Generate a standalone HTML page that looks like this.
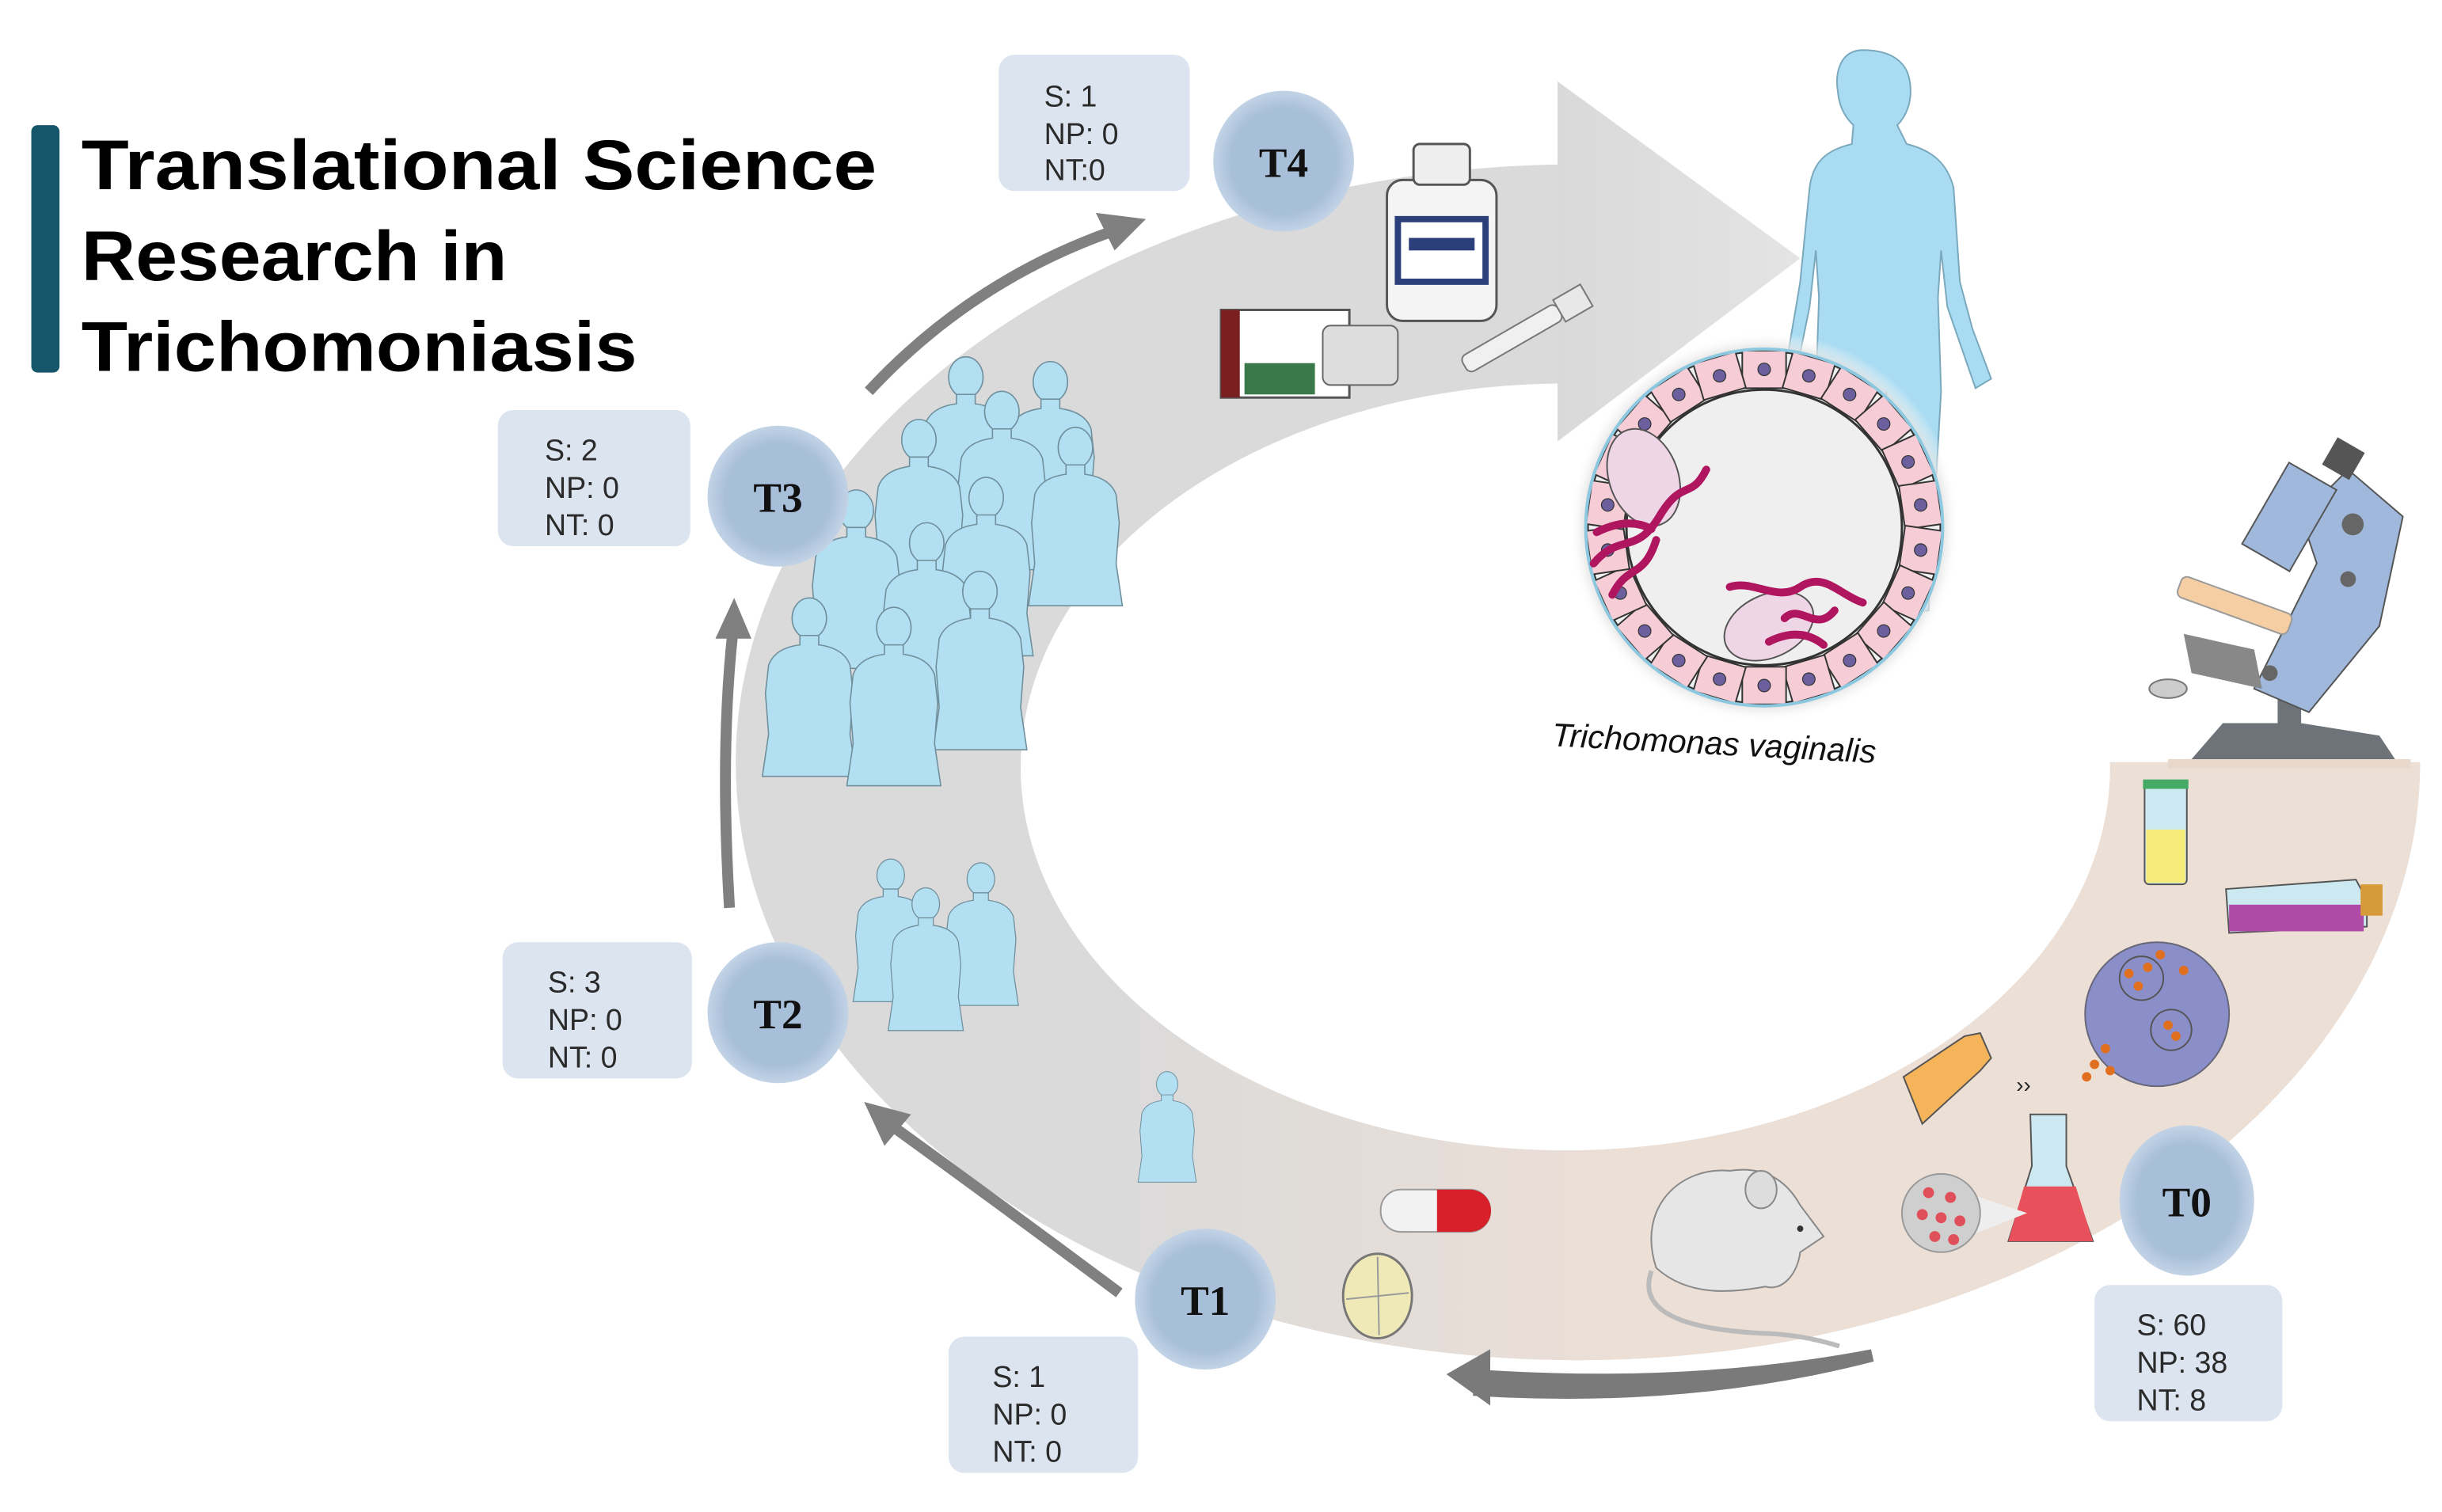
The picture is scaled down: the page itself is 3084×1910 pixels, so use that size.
<!DOCTYPE html>
<html><head><meta charset="utf-8"><style>
html,body{margin:0;padding:0;background:#fff;}
svg{display:block;}
.st{font-family:"Liberation Sans",sans-serif;font-size:19px;fill:#2a2a2a;}
.tn{font-family:"Liberation Serif",serif;font-weight:bold;font-size:27px;fill:#111;}
.ti{font-family:"Liberation Sans",sans-serif;font-weight:bold;font-size:45px;fill:#000;}
</style></head><body>
<svg width="3084" height="1910" viewBox="0 0 1560 966" preserveAspectRatio="none" xmlns="http://www.w3.org/2000/svg">
<defs>
<clipPath id="cg"><path d="M0,0 H995 V487 H1560 V966 H0Z"/></clipPath>
<clipPath id="cb"><rect x="600" y="487" width="960" height="479"/></clipPath>
<linearGradient id="bg" x1="700" y1="0" x2="1050" y2="0" gradientUnits="userSpaceOnUse">
<stop offset="0" stop-color="#ecdfd6" stop-opacity="0"/><stop offset="1" stop-color="#ecdfd6" stop-opacity="1"/></linearGradient>
<linearGradient id="ah" x1="0" y1="0" x2="1" y2="0"><stop offset="0" stop-color="#d9d9d9"/><stop offset="1" stop-color="#e4e4e4"/></linearGradient>
<radialGradient id="nd" cx="0.5" cy="0.5" r="0.5"><stop offset="0.75" stop-color="#a8bfda"/><stop offset="1" stop-color="#c3d3e6"/></radialGradient>
<radialGradient id="cellsh" cx="0.5" cy="0.5" r="0.5"><stop offset="0.75" stop-color="#f0f0f0"/><stop offset="0.9" stop-color="#ddd"/><stop offset="1" stop-color="#fff" stop-opacity="0"/></radialGradient>
<g id="p"><ellipse cx="30" cy="14" rx="11" ry="13" fill="#b3dff2" stroke="#6f8f9c" stroke-width="0.8"/>
<path d="M24,25 L24,31 Q8,33 4,44 L2,62 L4,88 L0,115 L60,115 L56,88 L58,62 L56,44 Q52,33 36,31 L36,25Z" fill="#b3dff2" stroke="#6f8f9c" stroke-width="0.8"/></g>
<g id="cell"><rect x="1113" y="224" width="28" height="24" fill="#f6cdd6" stroke="#333" stroke-width="1"/><circle cx="1127" cy="236" r="4" fill="#6b5f9e" stroke="#333" stroke-width="0.6"/></g>
</defs>

<rect x="20" y="80" width="18" height="158" rx="4" fill="#16566a"/>
<text class="ti" x="52" y="121" textLength="508" lengthAdjust="spacingAndGlyphs">Translational  Science</text>
<text class="ti" x="52" y="179" textLength="272" lengthAdjust="spacingAndGlyphs">Research in</text>
<text class="ti" x="52" y="237" textLength="355" lengthAdjust="spacingAndGlyphs">Trichomoniasis</text>

<path clip-path="url(#cg)" fill-rule="evenodd" fill="#dadada" d="M470,487 A538,382 0 1,1 1546,487 A538,382 0 1,1 470,487Z M652,490 A348,245 0 1,0 1348,490 A348,245 0 1,0 652,490Z"/>
<path clip-path="url(#cb)" fill-rule="evenodd" fill="url(#bg)" d="M470,487 A538,382 0 1,1 1546,487 A538,382 0 1,1 470,487Z M652,490 A348,245 0 1,0 1348,490 A348,245 0 1,0 652,490Z"/>
<polygon points="995,52 1150,165 995,282" fill="url(#ah)"/>

<path d="M555,250 Q620,180 710,148" fill="none" stroke="#808080" stroke-width="7"/>
<polygon points="732,140 700,136 712,160" fill="#808080"/>
<path d="M466,580 Q460,480 468,405" fill="none" stroke="#808080" stroke-width="7"/>
<polygon points="469,382 457,408 480,408" fill="#808080"/>
<path d="M715,826 Q640,770 568,718" fill="none" stroke="#808080" stroke-width="7"/>
<polygon points="552,704 565,732 582,712" fill="#808080"/>
<path d="M1196,866 Q1080,888 945,879 L945,888 Q1080,896 1196,866Z" fill="#7a7a7a" stroke="#7a7a7a" stroke-width="8"/>
<polygon points="924,878 952,862 952,898" fill="#7a7a7a"/>

<rect x="638" y="35" width="122" height="87" rx="10" fill="#dce4ef"/>
<text class="st" x="667" y="68">S: 1</text><text class="st" x="667" y="92">NP: 0</text><text class="st" x="667" y="115">NT:0</text>
<rect x="318" y="262" width="123" height="87" rx="10" fill="#dce4ef"/>
<text class="st" x="348" y="294">S: 2</text><text class="st" x="348" y="318">NP: 0</text><text class="st" x="348" y="342">NT: 0</text>
<rect x="321" y="602" width="121" height="87" rx="10" fill="#dce4ef"/>
<text class="st" x="350" y="634">S: 3</text><text class="st" x="350" y="658">NP: 0</text><text class="st" x="350" y="682">NT: 0</text>
<rect x="606" y="854" width="121" height="87" rx="10" fill="#dce4ef"/>
<text class="st" x="634" y="886">S: 1</text><text class="st" x="634" y="910">NP: 0</text><text class="st" x="634" y="934">NT: 0</text>
<rect x="1338" y="821" width="120" height="87" rx="10" fill="#dce4ef"/>
<text class="st" x="1365" y="853">S: 60</text><text class="st" x="1365" y="877">NP: 38</text><text class="st" x="1365" y="901">NT: 8</text>

<use href="#p" x="587" y="227"/><use href="#p" x="641" y="230"/><use href="#p" x="610" y="249"/>
<use href="#p" x="557" y="267"/><use href="#p" x="657" y="272"/><use href="#p" x="517" y="312"/>
<use href="#p" x="600" y="304"/><use href="#p" x="562" y="333"/><use href="#p" x="596" y="364"/>
<use href="#p" x="487" y="381"/><use href="#p" x="541" y="387"/>
<g transform="translate(545,548) scale(0.8)"><use href="#p" x="0" y="0"/><use href="#p" x="72" y="3"/><use href="#p" x="28" y="23"/></g>
<g transform="translate(727,684) scale(0.62)"><use href="#p" x="0" y="0"/></g>

<circle cx="820" cy="103" r="45" fill="url(#nd)"/><text class="tn" x="820" y="113" text-anchor="middle">T4</text>
<circle cx="497" cy="317" r="45" fill="url(#nd)"/><text class="tn" x="497" y="327" text-anchor="middle">T3</text>
<circle cx="497" cy="647" r="45" fill="url(#nd)"/><text class="tn" x="497" y="657" text-anchor="middle">T2</text>
<circle cx="770" cy="830" r="45" fill="url(#nd)"/><text class="tn" x="770" y="840" text-anchor="middle">T1</text>
<ellipse cx="1397" cy="767" rx="43" ry="48" fill="url(#nd)"/><text class="tn" x="1397" y="777" text-anchor="middle">T0</text>

<rect x="886" y="115" width="70" height="90" rx="10" fill="#f4f4f4" stroke="#555" stroke-width="1.5"/>
<rect x="903" y="92" width="36" height="26" rx="4" fill="#eee" stroke="#555" stroke-width="1.5"/>
<rect x="893" y="140" width="56" height="40" fill="#fff" stroke="#2b3f7a" stroke-width="4"/>
<rect x="900" y="152" width="42" height="8" fill="#2b3f7a"/>
<rect x="780" y="198" width="82" height="56" fill="#fff" stroke="#555" stroke-width="1.5"/>
<rect x="780" y="198" width="12" height="56" fill="#7a2020"/>
<rect x="795" y="232" width="45" height="20" fill="#3a7a4a"/>
<rect x="845" y="208" width="48" height="38" rx="5" fill="#ddd" stroke="#666"/>
<g transform="rotate(-30 975 212)"><rect x="930" y="205" width="70" height="12" rx="4" fill="#f0f0f0" stroke="#777"/><rect x="1000" y="203" width="20" height="16" fill="#e8e8e8" stroke="#777"/></g>

<path d="M1190,32 C1176,32 1172,46 1174,58 C1175,70 1180,76 1184,80 L1183,92 C1166,96 1158,104 1156,120 L1150,180 C1146,205 1142,225 1140,242 L1146,245 L1156,196 L1160,160 L1162,190 L1160,250 L1166,320 L1178,390 L1196,392 L1200,300 L1205,250 L1210,300 L1214,392 L1232,390 L1236,320 L1240,250 L1238,190 L1240,160 L1244,196 L1262,248 L1272,242 L1260,210 L1252,180 L1248,120 C1244,104 1234,96 1218,92 L1212,80 C1218,74 1222,64 1220,52 C1218,38 1206,32 1190,32Z" fill="#a9dcf2" stroke="#7aa8bc" stroke-width="1"/>

<circle cx="1127" cy="337" r="125" fill="url(#cellsh)"/>
<circle cx="1127" cy="337" r="113" fill="#f0f0f0" stroke="#333" stroke-width="2"/>
<g>
<use href="#cell"/><use href="#cell" transform="rotate(16.4 1127 337)"/><use href="#cell" transform="rotate(32.7 1127 337)"/><use href="#cell" transform="rotate(49.1 1127 337)"/><use href="#cell" transform="rotate(65.5 1127 337)"/><use href="#cell" transform="rotate(81.8 1127 337)"/><use href="#cell" transform="rotate(98.2 1127 337)"/><use href="#cell" transform="rotate(114.5 1127 337)"/><use href="#cell" transform="rotate(130.9 1127 337)"/><use href="#cell" transform="rotate(147.3 1127 337)"/><use href="#cell" transform="rotate(163.6 1127 337)"/><use href="#cell" transform="rotate(180 1127 337)"/><use href="#cell" transform="rotate(196.4 1127 337)"/><use href="#cell" transform="rotate(212.7 1127 337)"/><use href="#cell" transform="rotate(229.1 1127 337)"/><use href="#cell" transform="rotate(245.5 1127 337)"/><use href="#cell" transform="rotate(261.8 1127 337)"/><use href="#cell" transform="rotate(278.2 1127 337)"/><use href="#cell" transform="rotate(294.5 1127 337)"/><use href="#cell" transform="rotate(310.9 1127 337)"/><use href="#cell" transform="rotate(327.3 1127 337)"/><use href="#cell" transform="rotate(343.6 1127 337)"/>
</g>
<circle cx="1127" cy="337" r="88" fill="#efefef" stroke="#333" stroke-width="1.5"/>
<circle cx="1127" cy="337" r="114" fill="none" stroke="#8cc8e0" stroke-width="2"/>
<ellipse cx="1050" cy="305" rx="22" ry="32" fill="#eed6e6" stroke="#555" transform="rotate(-20 1050 305)"/>
<ellipse cx="1130" cy="400" rx="30" ry="20" fill="#eed6e6" stroke="#555" transform="rotate(-25 1130 400)"/>
<path d="M1018,360 C1035,340 1045,355 1060,330 S1080,320 1090,300 M1030,380 C1040,360 1050,370 1058,345 M1020,340 Q1040,330 1055,338" fill="none" stroke="#b0155f" stroke-width="5" stroke-linecap="round"/>
<path d="M1105,375 C1120,370 1135,385 1150,375 S1175,380 1190,385 M1140,395 C1150,385 1160,405 1172,390 M1130,410 Q1150,400 1165,412" fill="none" stroke="#b0155f" stroke-width="5" stroke-linecap="round"/>
<text x="1095" y="482" text-anchor="middle" transform="rotate(3 1095 475)" style="font-family:'Liberation Sans',sans-serif;font-style:italic;font-size:21px;fill:#111">Trichomonas vaginalis</text>

<rect x="1385" y="485" width="155" height="6" fill="#e8d8cc"/>
<path d="M1400,485 L1420,462 L1455,462 L1455,420 L1470,420 L1470,462 L1520,470 L1530,485Z" fill="#6d7378"/>
<path d="M1440,440 L1480,360 L1470,330 L1500,300 L1535,330 L1520,400 L1475,455Z" fill="#9fb8dc" stroke="#555" stroke-width="1"/>
<rect x="1445" y="300" width="35" height="60" fill="#9fb8dc" stroke="#555" transform="rotate(30 1462 330)"/>
<rect x="1487" y="283" width="20" height="20" fill="#555" transform="rotate(30 1497 293)"/>
<circle cx="1503" cy="335" r="7" fill="#666"/><circle cx="1500" cy="370" r="5" fill="#666"/><circle cx="1450" cy="430" r="5" fill="#666"/>
<rect x="1390" y="380" width="75" height="14" rx="4" fill="#f5cfa3" stroke="#999" transform="rotate(20 1428 387)"/>
<path d="M1395,405 L1440,415 L1445,440 L1400,430Z" fill="#888"/>
<ellipse cx="1385" cy="440" rx="12" ry="6" fill="#ccc" stroke="#777"/>

<rect x="1370" y="500" width="27" height="65" rx="3" fill="#cce8f0" stroke="#555"/>
<rect x="1371" y="530" width="25" height="34" fill="#f5eb7a"/>
<rect x="1369" y="498" width="29" height="6" fill="#4a6"/>
<path d="M1422,568 L1505,562 L1512,575 L1512,592 L1424,596Z" fill="#cce8f0" stroke="#555"/>
<rect x="1424" y="578" width="86" height="17" fill="#b04aa8"/>
<rect x="1508" y="565" width="14" height="20" fill="#d79a3a"/>
<circle cx="1378" cy="648" r="46" fill="#8a8fca" stroke="#667"/>
<circle cx="1368" cy="625" r="14" fill="none" stroke="#555"/><circle cx="1387" cy="658" r="13" fill="none" stroke="#555"/>
<g fill="#e07020"><circle cx="1360" cy="622" r="3"/><circle cx="1372" cy="618" r="3"/><circle cx="1366" cy="630" r="3"/><circle cx="1385" cy="655" r="3"/><circle cx="1390" cy="662" r="3"/><circle cx="1345" cy="670" r="3"/><circle cx="1338" cy="680" r="3"/><circle cx="1333" cy="688" r="3"/><circle cx="1348" cy="684" r="3"/><circle cx="1380" cy="610" r="3"/><circle cx="1395" cy="620" r="3"/></g>
<path d="M1216,688 L1255,662 L1265,660 L1272,676 L1265,684 L1228,718 Z" fill="#f5b45a" stroke="#555"/>
<text x="1288" y="698" style="font-family:'Liberation Sans',sans-serif;font-size:14px;fill:#222">››</text>
<path d="M1297,712 L1320,712 L1320,745 L1337,793 L1283,793 L1298,745Z" fill="#cce8f0" stroke="#555"/>
<path d="M1293,758 L1326,758 L1337,793 L1283,793Z" fill="#e8505c"/>
<polygon points="1250,760 1295,775 1252,792" fill="#eee"/>
<circle cx="1240" cy="775" r="25" fill="#cfcfcf" stroke="#999"/>
<g fill="#e0505a"><circle cx="1232" cy="762" r="3.5"/><circle cx="1246" cy="765" r="3.5"/><circle cx="1228" cy="776" r="3.5"/><circle cx="1240" cy="778" r="3.5"/><circle cx="1252" cy="780" r="3.5"/><circle cx="1236" cy="790" r="3.5"/><circle cx="1248" cy="792" r="3.5"/></g>

<path d="M1058,810 C1045,770 1075,745 1105,748 C1125,745 1140,752 1150,770 L1165,790 L1150,800 C1148,815 1138,825 1128,822 C1110,825 1080,830 1058,810Z" fill="#e6e6e6" stroke="#888"/>
<ellipse cx="1125" cy="760" rx="10" ry="12" fill="#ddd" stroke="#888"/>
<circle cx="1150" cy="785" r="2" fill="#333"/>
<path d="M1055,812 C1045,840 1080,850 1130,852 C1150,853 1165,857 1175,860" fill="none" stroke="#bbb" stroke-width="3"/>

<rect x="882" y="760" width="70" height="27" rx="13" fill="#f2f2f2" stroke="#999"/>
<path d="M918,760 L939,760 A13,13 0 0 1 939,787 L918,787Z" fill="#d8202a"/>
<ellipse cx="880" cy="828" rx="22" ry="27" fill="#efe9b8" stroke="#777" stroke-width="1.5"/>
<path d="M860,830 L900,826 M880,803 L881,853" stroke="#999"/>
</svg>
</body></html>
